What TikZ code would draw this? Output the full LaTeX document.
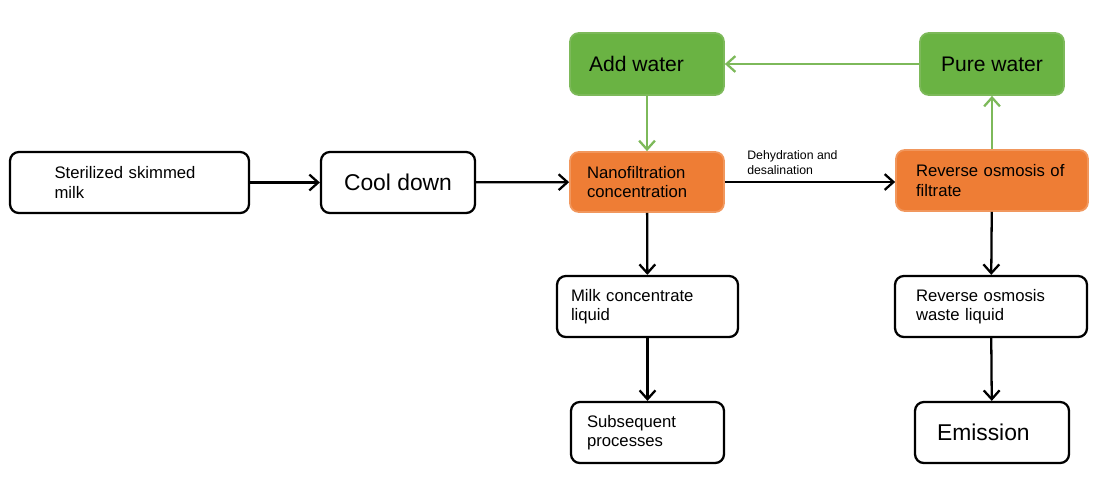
\documentclass[tikz,border=0pt]{standalone}
\usepackage{fontspec}
\setmainfont{Liberation Sans}
\usetikzlibrary{arrows.meta}
\definecolor{boxgreen}{HTML}{6AB343}
\definecolor{linegreen}{HTML}{7DB95A}
\definecolor{boxorange}{HTML}{EE7D35}
\tikzset{
  plain/.style={draw=black, line width=1.3pt, rounded corners=5pt, fill=white,
    align=left, font=\fontsize{9.5}{11}\selectfont},
  green box/.style={draw=linegreen, line width=1pt, rounded corners=5pt, fill=boxgreen,
    font=\fontsize{12}{14}\selectfont},
  orange box/.style={draw=boxorange!80!white, line width=1pt, rounded corners=5pt, fill=boxorange,
    align=left, font=\fontsize{9.5}{11}\selectfont},
  flow/.style={-{Straight Barb[length=5pt,width=9pt]}, line width=1.3pt},
  gflow/.style={-{Straight Barb[length=5pt,width=9pt]}, line width=1.3pt, draw=linegreen}
}
\begin{document}
\begin{tikzpicture}[x=0.02cm, y=-0.02cm]
  \useasboundingbox (0,0) rectangle (1105,491);
  % process boxes
  \node[plain, minimum width=4.78cm, minimum height=1.22cm, text width=3.0cm] (milk) at (129.5,182.5) {Sterilized skimmed\\milk};
  \node[plain, minimum width=3.08cm, minimum height=1.22cm, font=\fontsize{13}{15}\selectfont, align=center] (cool) at (398,182.5) {Cool down};
  \node[orange box, minimum width=3.08cm, minimum height=1.2cm, text width=2.4cm] (nano) at (647,182) {Nanofiltration\\concentration};
  \node[orange box, minimum width=3.84cm, minimum height=1.22cm, text width=3.04cm] (ro) at (992,180.5) {Reverse osmosis of\\filtrate};
  \node[green box, minimum width=3.08cm, minimum height=1.24cm] (add) at (647,64) {Add water\hspace*{12pt}};
  \node[green box, minimum width=2.88cm, minimum height=1.24cm] (pure) at (992,64) {Pure water};
  \node[plain, minimum width=3.62cm, minimum height=1.22cm, text width=3.06cm] (conc) at (647.5,306.5) {Milk concentrate\\liquid};
  \node[plain, minimum width=3.84cm, minimum height=1.22cm, text width=3.0cm] (waste) at (991,306.5) {Reverse osmosis\\waste liquid};
  \node[plain, minimum width=3.06cm, minimum height=1.22cm, text width=2.42cm] (sub) at (647.5,432.5) {Subsequent\\processes};
  \node[plain, minimum width=3.08cm, minimum height=1.22cm, font=\fontsize{13}{15}\selectfont, text width=2.2cm] (emis) at (992,432.5) {Emission};
  % connectors
  \draw[flow] (milk) -- (cool);
  \draw[flow] (cool) -- (nano);
  \draw[flow] (nano.east) -- node[above, align=left, font=\fontsize{7}{8.5}\selectfont, xshift=-10pt] {Dehydration and\\desalination} (ro.west |- nano.east);
  \draw[flow] (nano) -- (conc);
  \draw[flow] (conc) -- (sub);
  \draw[flow] (ro) -- (waste);
  \draw[flow] (waste) -- (emis);
  \draw[gflow] (pure) -- (add);
  \draw[gflow] (add) -- (nano);
  \draw[gflow] (ro) -- (pure);
\end{tikzpicture}
\end{document}
